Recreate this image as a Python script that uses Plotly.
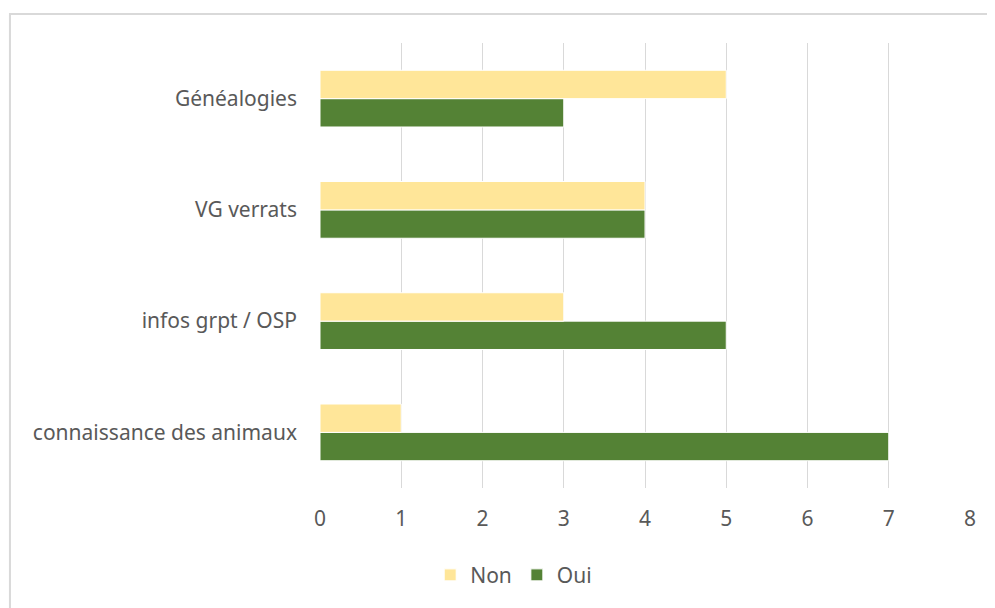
import plotly.graph_objects as go

categories = ["connaissance des animaux", "infos grpt / OSP", "VG verrats", "Généalogies"]
oui = [7, 5, 4, 3]
non = [1, 3, 4, 5]
x_ticks = [0, 1, 2, 3, 4, 5, 6, 7, 8]

FONT = "Noto Sans"
GREY = "#595959"

fig = go.Figure()

# Oui first so it sits under Non inside each group
fig.add_trace(go.Bar(
    y=categories, x=oui, name="Oui", orientation="h",
    marker=dict(color="#548235", line=dict(color="white", width=1)),
))
fig.add_trace(go.Bar(
    y=categories, x=non, name="Non", orientation="h",
    marker=dict(color="#FFE699", line=dict(color="white", width=1)),
))

# light frame around the whole chart area
fig.add_shape(
    type="rect", xref="paper", yref="paper",
    x0=-0.477, x1=1.2, y0=-0.6, y1=1.065,
    line=dict(color="#D9D9D9", width=2), fillcolor="rgba(0,0,0,0)", layer="below",
)

# the page body adds an 8px margin, so the figure is drawn 8px smaller
fig.update_layout(
    width=987, height=600,
    margin=dict(l=312, r=25, t=35, b=112),
    paper_bgcolor="white", plot_bgcolor="white",
    barmode="group", bargap=0.49, bargroupgap=0,
    font=dict(family=FONT, size=21, color=GREY),
    showlegend=True,
    legend=dict(
        orientation="h", traceorder="reversed",
        x=0.298, xanchor="center", y=-0.196, yanchor="middle",
        font=dict(size=21, color=GREY),
    ),
    xaxis=dict(
        range=[0, 8], tickvals=x_ticks, showgrid=True, gridcolor="#D9D9D9",
        gridwidth=1, zeroline=False, showline=False, ticks="",
        ticklabelstandoff=16,
    ),
    yaxis=dict(
        showgrid=False, zeroline=False, showline=False, ticks="",
        ticklabelstandoff=22,
    ),
)

fig.write_html("out.html")
